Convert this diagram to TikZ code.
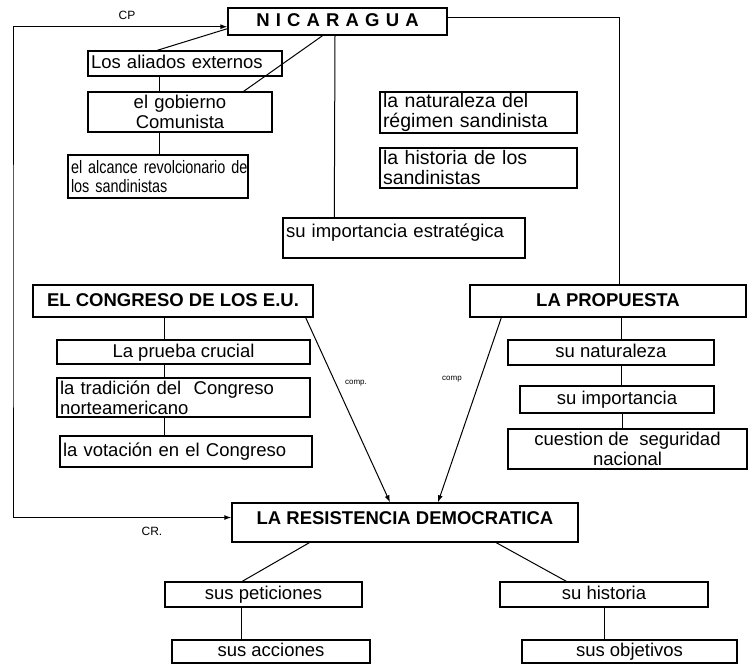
\documentclass[tikz,border=0pt]{standalone}
\usepackage{fontspec}
\setmainfont{Liberation Sans}
\usetikzlibrary{arrows.meta,calc}
\newcommand\bxfont{\fontsize{18.5}{20}\selectfont}
\begin{document}
\begin{tikzpicture}[x=1pt,y=-1pt,
  box/.style={draw,line width=1.4pt,inner xsep=3pt,inner ysep=0pt,font=\bxfont},
  hd/.style={box,font=\bxfont\bfseries},
  one/.style={text height=12.5,text depth=2},
  lft/.style={align=left},
  ctr/.style={align=center},
  con/.style={line width=1pt},
  tip/.style={-{Latex[length=7pt,width=5pt]}},
  arr/.style={con,tip},
  hand/.style={font=\fontsize{12}{12}\selectfont,inner sep=0pt},
  tinyhand/.style={font=\fontsize{8}{8}\selectfont,inner sep=0pt}]
\useasboundingbox (0,0) rectangle (750,665);

% nodes
\node[hd,ctr,one,minimum width=219,minimum height=27] (nic) at (337.5,21.5) {N\,\,I\,\,C\,\,A\,\,R\,\,A\,\,G\,\,U\,\,A};
\node[box,lft,one,minimum width=194,minimum height=25,text width=188] (ali) at (185,63.5) {\mbox{Los aliados externos}};
\node[box,ctr,minimum width=184,minimum height=40,text width=178] (gob) at (180,112) {el gobierno\\Comunista};
\node[box,lft,minimum width=180,minimum height=43,text width=174,font=\fontsize{18}{19}\selectfont\addfontfeature{FakeStretch=0.8}] (alc) at (158,176.5) {\mbox{el alcance revolcionario de}\\\mbox{los sandinistas}};
\node[box,lft,minimum width=197,minimum height=41,text width=191,font=\fontsize{19.5}{20}\selectfont] (nat) at (478.5,112.5) {\mbox{la naturaleza del}\\\mbox{régimen sandinista}};
\node[box,lft,minimum width=197,minimum height=40,text width=191,font=\fontsize{19.5}{20}\selectfont] (his) at (478.5,168) {\mbox{la historia de los}\\\mbox{sandinistas}};
\node[box,lft,text height=16,text depth=18,minimum width=242,minimum height=40,text width=236] (imp) at (404,238) {\mbox{su importancia estratégica}};
\node[hd,ctr,one,minimum width=280,minimum height=32] (cong) at (173,301) {EL CONGRESO DE LOS E.U.};
\node[hd,ctr,one,minimum width=276,minimum height=32] (prop) at (608,301) {LA PROPUESTA};
\node[box,ctr,one,minimum width=253,minimum height=24] (pru) at (183.5,352) {La prueba crucial};
\node[box,lft,minimum width=253,minimum height=39,text width=247] (tra) at (183.5,397.5) {\mbox{la tradición del\ \ Congreso}\\\mbox{norteamericano}};
\node[box,lft,one,minimum width=252,minimum height=31,text width=246] (vot) at (186,451.5) {\mbox{la votación en el Congreso}};
\node[box,ctr,one,minimum width=206,minimum height=25] (snat) at (611,352.5) {su naturaleza};
\node[box,ctr,one,minimum width=194,minimum height=27] (simp) at (617,399.5) {su importancia};
\node[box,ctr,minimum width=239,minimum height=40] (cues) at (627.5,449) {cuestion de\ \ seguridad\\nacional};
\node[hd,ctr,text height=18,text depth=15,minimum width=346,minimum height=39] (res) at (405,522.5) {LA RESISTENCIA DEMOCRATICA};
\node[box,ctr,one,minimum width=197,minimum height=25] (pet) at (263.5,594.5) {sus peticiones};
\node[box,ctr,one,minimum width=198,minimum height=23] (acc) at (271,651.5) {sus acciones};
\node[box,ctr,one,minimum width=208,minimum height=25] (shis) at (604,594.5) {su historia};
\node[box,ctr,one,minimum width=215,minimum height=23] (obj) at (629.5,651.5) {sus objetivos};

% handwritten labels
\node[hand] (cp) at (127,15) {CP};
\node[hand] (cr) at (152,531) {CR.};
\node[tinyhand] (c1) at (356,383) {comp.};
\node[tinyhand] (c2) at (452,379) {comp};

% connectors
\draw[con] ($(nic.south west)+(0,-7)$) -- ($(ali.north west)+(70,0)$);
\draw[con] ($(nic.south)+(-15,0)$) -- ($(gob.north east)+(-29,0)$);
\draw[con] ($(ali.south west)+(72,0)$) -- ($(gob.north west)+(72,0)$);
\draw[con] ($(gob.south west)+(72,0)$) -- ($(alc.north west)+(92,0)$);
\draw[con] ($(nic.south)+(-2.5,0)$) -- ($(imp.north west)+(52,0)$);
\coordinate (lc) at (13,300);
\draw[con,{Latex[length=7pt,width=5pt]}-{Latex[length=7pt,width=5pt]}] ($(nic.south west)+(0,-9)$) -| (lc) |- ($(res.west)+(0,-5)$);
\draw[con] ($(nic.east)+(0,-4.5)$) -| ($(prop.north)+(11,0)$);
\draw[arr] ($(cong.south east)+(-8,0)$) -- ($(res.north)+(-15,0)$);
\draw[arr] ($(prop.south west)+(32,0)$) -- ($(res.north)+(33,0)$);
\draw[con] ($(cong.south west)+(132,0)$) -- ($(pru.north west)+(108,0)$);
\draw[con] ($(pru.south west)+(108,0)$) -- ($(tra.north west)+(108,0)$);
\draw[con] ($(tra.south west)+(108,0)$) -- ($(vot.north west)+(105,0)$);
\draw[con] ($(prop.south west)+(152,0)$) -- ($(snat.north west)+(114,0)$);
\draw[con] ($(snat.south west)+(114,0)$) -- ($(simp.north west)+(102,0)$);
\draw[con] ($(simp.south west)+(103,0)$) -- ($(cues.north west)+(115,0)$);
\draw[con] ($(res.south west)+(78,0)$) -- ($(pet.north west)+(78,0)$);
\draw[con] ($(res.south west)+(265,0)$) -- ($(shis.north west)+(67,0)$);
\draw[con] ($(pet.south west)+(77,0)$) -- ($(acc.north west)+(70,0)$);
\draw[con] ($(shis.south west)+(105,0)$) -- ($(obj.north west)+(83,0)$);
\end{tikzpicture}
\end{document}
